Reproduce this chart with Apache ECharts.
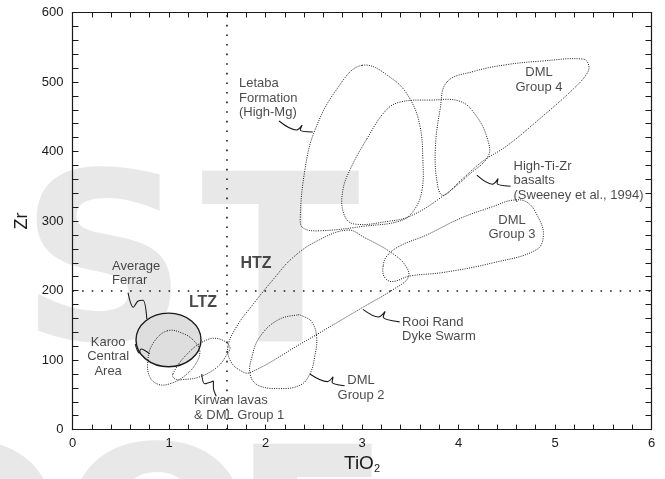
<!DOCTYPE html>
<html>
<head>
<meta charset="utf-8">
<script src="https://cdn.jsdelivr.net/npm/echarts@6/dist/echarts.min.js"></script>
<style>
  html, body { margin: 0; padding: 0; background: #fff; }
  #chart { width: 665px; height: 479px; }
</style>
</head>
<body>
<div id="chart"></div>
<script>
// field outlines as [TiO2, Zr] pairs
const letaba = [[3.0, 524], [3.32, 504], [3.5, 475], [3.6, 437], [3.63, 390], [3.62, 343], [3.53, 314], [3.39, 300],
  [3.05, 293], [2.56, 286], [2.39, 290], [2.36, 304], [2.41, 375], [2.51, 430], [2.74, 490]];
const highTiZr = [[3.05, 418], [3.24, 458], [3.39, 471], [3.71, 474], [4.02, 472], [4.19, 450], [4.3, 418], [4.31, 394],
  [4.12, 368], [3.81, 333], [3.5, 307], [3.29, 300], [2.91, 296], [2.81, 311], [2.8, 343], [2.88, 375]];
const dmlGroup4 = [[3.88, 500], [4.15, 515], [4.5, 525], [4.85, 530], [5.29, 533], [5.35, 524], [5.33, 512], [5.19, 490],
  [4.84, 447], [4.5, 408], [4.25, 386], [4.02, 358], [3.84, 337], [3.78, 354], [3.76, 404], [3.81, 461]];
const dmlGroup3 = [[3.22, 236], [3.26, 250], [3.39, 264], [3.67, 280], [4.02, 304], [4.36, 321], [4.56, 330], [4.71, 327],
  [4.82, 307], [4.88, 281], [4.81, 259], [4.36, 240], [3.84, 226], [3.5, 221], [3.31, 213], [3.23, 220]];
const rooiRand = [[1.61, 119], [1.7, 148], [1.87, 180], [2.08, 216], [2.28, 247], [2.53, 271], [2.85, 287], [3.03, 276],
  [3.31, 254], [3.45, 236], [3.48, 219], [3.34, 203], [3.01, 176], [2.36, 123], [1.84, 82], [1.74, 85], [1.64, 98]];
const dmlGroup2 = [[2.33, 165], [2.12, 157], [1.94, 133], [1.86, 105], [1.84, 80], [1.92, 64], [2.15, 59], [2.36, 64],
  [2.46, 80], [2.51, 105], [2.53, 133], [2.48, 155], [2.39, 163]];
const kirwan = [[1.04, 80], [1.19, 109], [1.39, 129], [1.53, 130], [1.63, 119], [1.6, 108], [1.5, 90], [1.32, 76],
  [1.15, 72], [1.06, 73]];
const karoo = [[0.98, 142], [1.15, 138], [1.27, 126], [1.32, 112], [1.27, 93], [1.15, 76], [1.01, 66], [0.89, 65],
  [0.8, 76], [0.78, 98], [0.83, 123]];

// average Ferrar: centre and half-widths
const ferrarCentre = [0.995, 129];
const ferrarHalf = [0.337, 38.5];

// zone boundaries
const ltzHtzTi = 1.6;
const ltzHtzZr = 200;

// leader squiggles
const leaders = [
  [[2.14, 444], [2.32, 431], [2.38, 438], [2.36, 431], [2.49, 428]],
  [[4.19, 366], [4.35, 353], [4.41, 361], [4.4, 354], [4.54, 350]],
  [[3.01, 173], [3.17, 162], [3.24, 170], [3.22, 162], [3.39, 155]],
  [[2.46, 80], [2.64, 69], [2.7, 76], [2.69, 68], [2.82, 63]],
  [[1.34, 80], [1.37, 66], [1.46, 70], [1.46, 61], [1.49, 48]],
  [[0.575, 197], [0.63, 176], [0.68, 185], [0.73, 186], [0.77, 159]],
  [[0.65, 123], [0.69, 110], [0.71, 116], [0.8, 109]]
];

// annotations
const leftLabels = [
  [1.725, 477, 'Letaba\nFormation\n(High-Mg)'],
  [4.57, 358, 'High-Ti-Zr\nbasalts\n(Sweeney et al., 1994)'],
  [3.415, 144, 'Rooi Rand\nDyke Swarm'],
  [1.259, 31, 'Kirwan lavas\n& DML Group 1'],
  [0.409, 225, 'Average\nFerrar']
];
const centreLabels = [
  [4.834, 503, 'DML\nGroup 4'],
  [4.554, 291, 'DML\nGroup 3'],
  [2.99, 60, 'DML\nGroup 2'],
  [0.369, 105, 'Karoo\nCentral\nArea']
];
const zoneLabels = [
  [1.902, 239, 'HTZ'],
  [1.352, 182, 'LTZ']
];

const ink = '#1a1a1a';
const font = 'Liberation Sans, Arial, sans-serif';

function fieldSeries(pts) {
  return {
    type: 'custom',
    data: [pts[0]],
    silent: true,
    clip: false,
    z: 3,
    renderItem: (params, api) => ({
      type: 'polygon',
      shape: { points: pts.map(p => api.coord(p)), smooth: 0.4 },
      style: { fill: 'none', stroke: ink, lineWidth: 1, lineDash: [1, 1.3] }
    })
  };
}

// fine ticks everywhere, numbers only on the round values
function axis(dim, pos, showLabel) {
  const isX = dim === 'x';
  const labelStep = isX ? 1 : 100;
  return {
    type: 'value',
    position: pos,
    min: 0,
    max: isX ? 6 : 600,
    interval: isX ? 0.2 : 20,
    axisLine: { show: true, onZero: false, lineStyle: { color: ink, width: 1.2 } },
    axisTick: { show: true, inside: true, length: isX ? 5 : 6, lineStyle: { color: ink, width: 1 } },
    axisLabel: {
      show: showLabel,
      color: ink,
      fontSize: 13,
      fontFamily: font,
      margin: isX ? 7 : 9,
      formatter: v => {
        const k = Math.round(v / labelStep);
        return Math.abs(v - k * labelStep) < 1e-6 ? String(k * labelStep) : '';
      }
    },
    splitLine: { show: false }
  };
}

const xMain = Object.assign(axis('x', 'bottom', true), {
  name: '{a|TiO}{b|2}',
  nameLocation: 'middle',
  nameGap: 23,
  nameTextStyle: {
    rich: {
      a: { fontSize: 19, color: ink, fontFamily: font },
      b: { fontSize: 11, color: ink, fontFamily: font, verticalAlign: 'bottom', padding: [9, 0, 0, 0] }
    }
  }
});
const yMain = Object.assign(axis('y', 'left', true), {
  name: 'Zr',
  nameLocation: 'middle',
  nameGap: 36,
  nameRotate: 90,
  nameTextStyle: { fontSize: 18, color: ink, fontFamily: font }
});

const watermark = [
  { ch: 'S', x: 20, y: 279 },
  { ch: 'T', x: 201, y: 280 },
  { ch: 'O', x: -131, y: 553 },
  { ch: 'O', x: 58, y: 553 },
  { ch: 'F', x: 232, y: 553 }
].map(w => ({
  type: 'text',
  x: w.x,
  y: w.y,
  z: -10,
  silent: true,
  style: {
    text: w.ch,
    fill: '#e8e8e8',
    font: 'bold 233px "DejaVu Sans"',
    verticalAlign: 'middle',
    align: 'left'
  }
}));

const chart = echarts.init(document.getElementById('chart'));
chart.setOption({
  animation: false,
  backgroundColor: '#fff',
  textStyle: { fontFamily: font },
  grid: { left: 72.5, right: 13.5, top: 12.5, bottom: 45.5, containLabel: false },
  xAxis: [xMain, axis('x', 'top', false)],
  yAxis: [yMain, axis('y', 'right', false)],
  graphic: { elements: watermark },
  series: [
    {
      type: 'line',
      data: [],
      silent: true,
      markLine: {
        silent: true,
        symbol: ['none', 'none'],
        label: { show: false },
        lineStyle: { color: ink, width: 1.6, type: [1.6, 8] },
        data: [{ xAxis: ltzHtzTi }, { yAxis: ltzHtzZr }]
      }
    },
    {
      type: 'custom',
      data: [ferrarCentre],
      silent: true,
      z: 2,
      renderItem: (params, api) => {
        const c = api.coord(ferrarCentre);
        const s = api.size(ferrarHalf);
        return {
          type: 'ellipse',
          shape: { cx: c[0], cy: c[1], rx: s[0], ry: s[1] },
          style: { fill: '#dedede', stroke: ink, lineWidth: 1.4 }
        };
      }
    },
    fieldSeries(letaba),
    fieldSeries(highTiZr),
    fieldSeries(dmlGroup4),
    fieldSeries(dmlGroup3),
    fieldSeries(rooiRand),
    fieldSeries(dmlGroup2),
    fieldSeries(kirwan),
    fieldSeries(karoo),
    ...leaders.map(pts => ({
      type: 'line',
      data: pts,
      symbol: 'none',
      smooth: 0.35,
      silent: true,
      z: 4,
      lineStyle: { color: ink, width: 1.1 }
    })),
    {
      type: 'scatter',
      symbolSize: 0,
      silent: true,
      z: 5,
      data: leftLabels.map(l => ({ value: [l[0], l[1]], name: l[2] })),
      label: { show: true, position: 'right', distance: 0, formatter: '{b}', color: ink, fontSize: 13, lineHeight: 14.5, align: 'left' }
    },
    {
      type: 'scatter',
      symbolSize: 0,
      silent: true,
      z: 5,
      data: centreLabels.map(l => ({ value: [l[0], l[1]], name: l[2] })),
      label: { show: true, position: 'inside', formatter: '{b}', color: ink, fontSize: 13, lineHeight: 14.5, align: 'center' }
    },
    {
      type: 'scatter',
      symbolSize: 0,
      silent: true,
      z: 5,
      data: zoneLabels.map(l => ({ value: [l[0], l[1]], name: l[2] })),
      label: { show: true, position: 'inside', formatter: '{b}', color: ink, fontSize: 16, fontWeight: 'bold' }
    }
  ]
});
</script>
</body>
</html>
